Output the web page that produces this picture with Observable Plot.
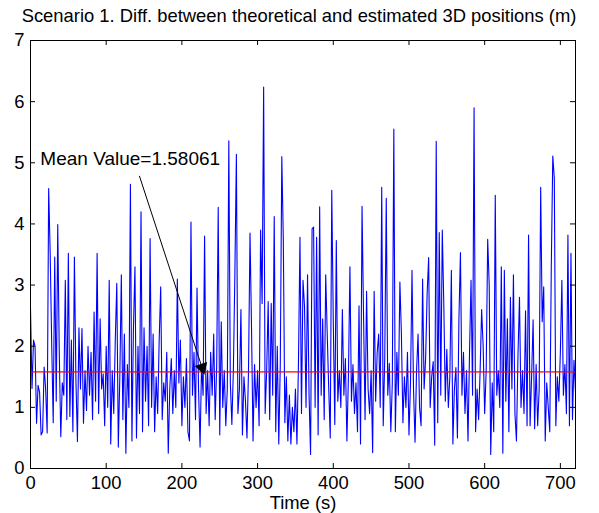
<!DOCTYPE html>
<html>
<head>
<meta charset="utf-8">
<script src="https://cdn.jsdelivr.net/npm/d3@7"></script>
<script src="https://cdn.jsdelivr.net/npm/@observablehq/plot@0.6"></script>
<style>
  html, body { margin: 0; padding: 0; background: #fff; }
  #chart svg { display: block; }
</style>
</head>
<body>
<div id="chart"></div>
<script>
// ---- data ----
const titleText = "Scenario 1. Diff. between theoretical and estimated 3D positions (m)";
const xLabel = "Time (s)";
const startTime = 0;
const timeStep = 2;
const diffValues = [
  2.62,1.31,2.1,2.0,0.74,1.36,1.25,0.55,0.6,1.66,
  1.3,0.58,4.58,3.52,2.05,0.75,3.46,1.1,3.99,1.9,
  0.52,1.4,1.2,3.08,0.8,3.52,0.85,2.1,0.6,3.46,
  1.45,0.44,2.3,1.3,2.29,0.74,1.6,0.95,2.0,1.2,
  1.9,0.8,2.56,1.1,3.52,0.9,2.45,1.3,1.55,0.7,
  2.0,1.0,3.08,0.4,1.6,0.9,2.1,3.03,0.35,1.5,
  3.17,0.8,2.2,0.25,1.7,1.0,4.65,0.45,2.3,3.3,
  0.5,2.0,0.9,4.2,0.6,2.3,1.1,2.0,0.7,3.76,
  1.0,2.2,0.6,1.5,0.9,2.1,2.97,0.8,1.4,1.1,
  1.9,0.25,1.3,1.8,0.9,1.6,1.0,3.1,1.4,2.1,
  0.7,1.5,1.0,1.8,0.6,0.45,4.03,1.2,1.9,0.8,
  2.95,1.3,0.35,1.7,1.2,3.8,0.9,1.6,0.7,1.9,
  1.2,2.2,0.8,1.7,4.27,0.55,2.4,1.0,1.6,0.7,
  1.3,5.36,1.4,0.72,1.6,3.18,5.14,0.9,1.3,2.6,
  0.55,1.5,1.1,0.5,1.6,3.85,2.3,0.45,1.7,1.0,
  1.6,0.7,3.9,2.7,6.24,0.9,1.6,2.73,0.8,2.7,
  1.2,4.12,0.6,2.0,0.4,1.7,5.1,3.75,0.75,1.5,
  0.45,1.2,0.4,1.0,0.6,1.3,0.4,1.7,3.78,0.9,
  3.08,2.65,1.0,3.17,1.2,0.23,3.92,3.95,1.0,3.78,
  0.55,4.28,1.2,2.45,0.8,3.17,2.2,1.3,0.5,4.55,
  2.42,0.72,3.73,1.1,1.6,1.0,2.6,1.2,1.8,0.45,
  1.5,3.3,1.1,1.7,0.9,1.4,0.6,2.66,0.4,4.29,
  2.5,0.8,2.9,1.3,0.9,1.6,0.26,2.9,1.1,1.9,
  2.2,1.0,4.6,0.7,1.8,4.42,1.2,1.72,0.6,1.4,
  5.55,0.6,1.9,1.2,3.05,2.2,0.75,1.5,1.0,1.9,
  0.55,1.4,3.24,1.3,0.43,1.6,2.2,1.0,0.7,3.1,
  1.3,1.8,2.86,3.45,1.0,1.5,1.75,0.38,5.35,0.75,
  3.86,1.2,3.9,2.7,1.1,1.95,1.0,1.5,3.24,0.4,
  1.3,1.65,0.5,2.45,3.53,1.2,1.9,0.9,1.6,0.45,
  1.9,3.08,1.2,5.9,0.6,1.3,0.8,1.6,2.6,2.0,
  0.9,1.6,3.75,3.0,0.23,1.4,0.6,4.47,1.2,1.6,
  1.0,3.3,0.25,3.24,1.1,2.45,0.6,2.8,1.3,3.17,
  0.9,0.45,1.85,2.8,1.0,1.6,0.9,2.58,0.7,3.82,
  0.7,1.5,2.43,0.65,1.7,0.7,1.3,4.6,2.4,2.97,
  0.45,1.4,1.0,0.6,3.28,5.11,4.75,0.7,1.5,1.1,
  1.9,3.08,1.2,1.7,0.9,3.82,0.7,3.52,0.8,1.77,
  1.25
];
const meanValue = 1.58061;
const meanLabel = "Mean Value=1.58061";
const xTicks = [0, 100, 200, 300, 400, 500, 600, 700];
const yTicks = [0, 1, 2, 3, 4, 5, 6, 7];
const xDomain = [0, 720];
const yDomain = [0, 7];
// annotation anchor (data coordinates)
const labelPos = {x: 13, y: 5.07};
const arrowFrom = {x: 144, y: 4.78};
const arrowTo = {x: 228.5, y: meanValue};

// ---- build ----
const series = diffValues.map((v, i) => ({t: startTime + i * timeStep, v}));
const W = 599, H = 513;
const mL = 30, mR = 24, mT = 40, mB = 45;
const innerW = W - mL - mR, innerH = H - mT - mB;
const tickLen = 5;
const fs = 18.4;
const font = "'Liberation Sans', Arial, Helvetica, sans-serif";

const chart = Plot.plot({
  width: W,
  height: H,
  marginLeft: mL,
  marginRight: mR,
  marginTop: mT,
  marginBottom: mB,
  style: {fontFamily: font, fontSize: fs + "px", color: "#000", background: "#fff", overflow: "visible"},
  x: {domain: xDomain, label: null},
  y: {domain: yDomain, label: null},
  marks: [
    Plot.line(series, {x: "t", y: "v", stroke: "#0000ff", strokeWidth: 1.1}),
    Plot.ruleY([meanValue], {x1: xDomain[0], x2: xDomain[1], stroke: "#ff0000", strokeWidth: 1.2}),
    Plot.arrow([{x1: arrowFrom.x, y1: arrowFrom.y, x2: arrowTo.x, y2: arrowTo.y}], {
      x1: "x1", y1: "y1", x2: "x2", y2: "y2", stroke: "#000", strokeWidth: 1, headLength: 0
    }),
    Plot.dot([arrowTo], {x: "x", y: "y", symbol: "triangle", r: 4.2, rotate: 162, fill: "#000", stroke: "#000", strokeWidth: 1, dx: -1.4, dy: -4.3}),
    Plot.text([meanLabel], {x: labelPos.x, y: labelPos.y, text: d => d, textAnchor: "start", fontSize: 19, fill: "#000"}),
    Plot.frame({stroke: "#000", strokeWidth: 1}),
    // inward ticks on all four sides
    Plot.tickX(xTicks, {x: d => d, insetTop: innerH - tickLen, stroke: "#000"}),
    Plot.tickX(xTicks, {x: d => d, insetBottom: innerH - tickLen, stroke: "#000"}),
    Plot.tickY(yTicks, {y: d => d, insetRight: innerW - tickLen, stroke: "#000"}),
    Plot.tickY(yTicks, {y: d => d, insetLeft: innerW - tickLen, stroke: "#000"}),
    Plot.axisX({ticks: xTicks, tickSize: 0, tickPadding: 7, fontSize: fs, tickFormat: "d", label: null}),
    Plot.axisY({ticks: yTicks, tickSize: 0, tickPadding: 6, fontSize: fs, tickFormat: "d", label: null}),
    Plot.text([xLabel], {frameAnchor: "bottom", dy: 27, text: d => d, fontSize: fs, lineAnchor: "top", fill: "#000"}),
    Plot.text([titleText], {frameAnchor: "top", dx: -4, dy: -32, text: d => d, fontSize: fs, fill: "#000"})
  ]
});
document.getElementById("chart").appendChild(chart);
</script>
</body>
</html>
